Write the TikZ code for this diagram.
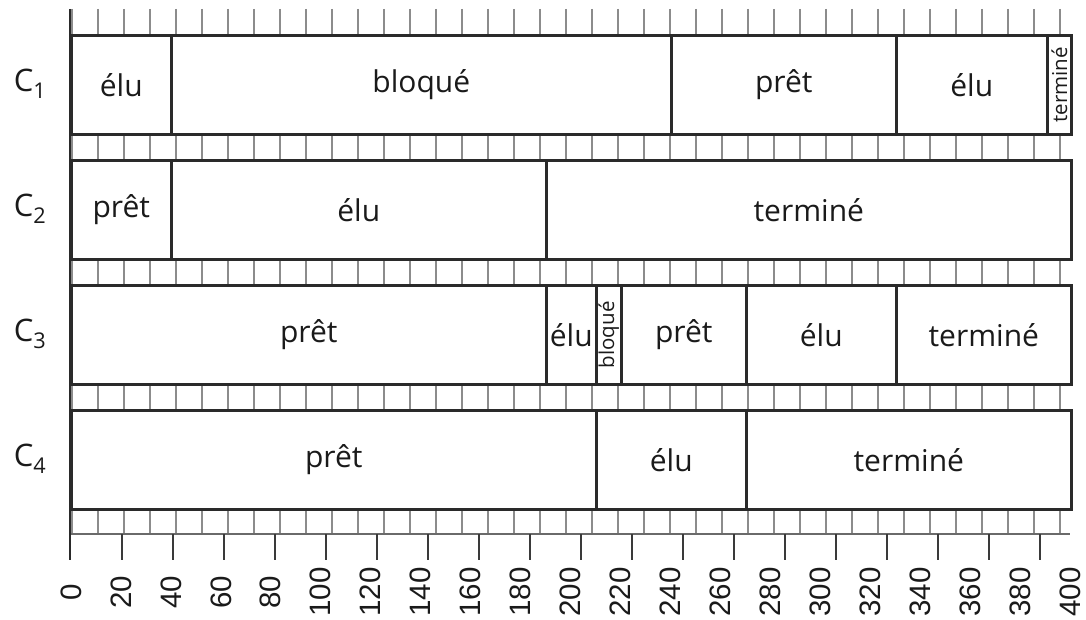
\documentclass[tikz,border=0pt]{standalone}
\usepackage{fontspec}
\setmainfont{Open Sans}
\newfontfamily\numfont{Liberation Sans}
\definecolor{boxc}{HTML}{2A2A2A}
\definecolor{gridc}{HTML}{8C8C8C}
\definecolor{axisc}{HTML}{6A6A6A}
\definecolor{tickc}{HTML}{3A3A3A}
\definecolor{txt}{HTML}{1A1A1A}
\newcommand\segbox[5]{\node[seg, minimum width={(#3-#2)*2.5}] (#1) at ({70+2.5*#2},#4) {#5};}
\begin{document}
\begin{tikzpicture}[x=1pt,y=-1pt,
  seg/.style={draw=boxc, line width=2.6pt, fill=white, inner sep=0pt, anchor=north west,
    minimum height=99, font=\fontsize{30}{33}\selectfont, text=txt},
  vtext/.style={rotate=90, inner sep=0pt, font=\fontsize{20.5}{23}\selectfont, text=txt},
  gridline/.style={draw=gridc, line width=1.2pt},
  axisline/.style={draw=axisc, line width=1.8pt},
  majortick/.style={draw=tickc, line width=1.8pt},
  numlab/.style={rotate=90, inner sep=0pt, font=\numfont\fontsize{29.5}{32}\selectfont, text=txt},
  rowlab/.style={inner sep=0pt, font=\fontsize{31}{34}\selectfont, text=txt}]
\useasboundingbox (0,0) rectangle (1086,620);
% grid
\foreach \k in {0,...,38} \draw[gridline] ({72+26*\k},9) -- ({72+26*\k},534);
% axis
\draw[axisline] (70,534) -- (1070,534);
\foreach \k in {1,...,19} \draw[majortick] ({71+51*\k},534) -- ++(0,26);
\draw[draw=boxc, line width=2.6pt] (70,9) -- (70,560);
% row C1
\segbox{a1}{0}{40}{34}{élu}
\segbox{a2}{40}{240}{34}{bloqué}
\segbox{a3}{240}{330}{34}{prêt}
\segbox{a4}{330}{390.4}{34}{élu}
\segbox{a5}{390.4}{400}{34}{}
\node[vtext] (a5t) at (a5.center) {terminé};
% row C2
\segbox{b1}{0}{40}{159}{prêt}
\segbox{b2}{40}{190}{159}{élu}
\segbox{b3}{190}{400}{159}{terminé}
% row C3
\segbox{c1}{0}{190}{284}{prêt}
\segbox{c2}{190}{210}{284}{élu}
\segbox{c3}{210}{220}{284}{}
\node[vtext] (c3t) at (c3.center) {bloqué};
\segbox{c4}{220}{270}{284}{prêt}
\segbox{c5}{270}{330}{284}{élu}
\segbox{c6}{330}{400}{284}{terminé}
% row C4
\segbox{d1}{0}{210}{409}{prêt}
\segbox{d2}{210}{270}{409}{élu}
\segbox{d3}{270}{400}{409}{terminé}
% row labels
\node[rowlab] (l1) at (30,84) {C\textsubscript{1}};
\node[rowlab] (l2) at (30,209) {C\textsubscript{2}};
\node[rowlab] (l3) at (30,334) {C\textsubscript{3}};
\node[rowlab] (l4) at (30,459) {C\textsubscript{4}};
% axis labels
\foreach \k in {0,...,20} {
  \pgfmathtruncatemacro\v{20*\k}
  \node[numlab] (n\k) at ({71+49.95*\k},592) {\v};
}
\end{tikzpicture}
\end{document}
